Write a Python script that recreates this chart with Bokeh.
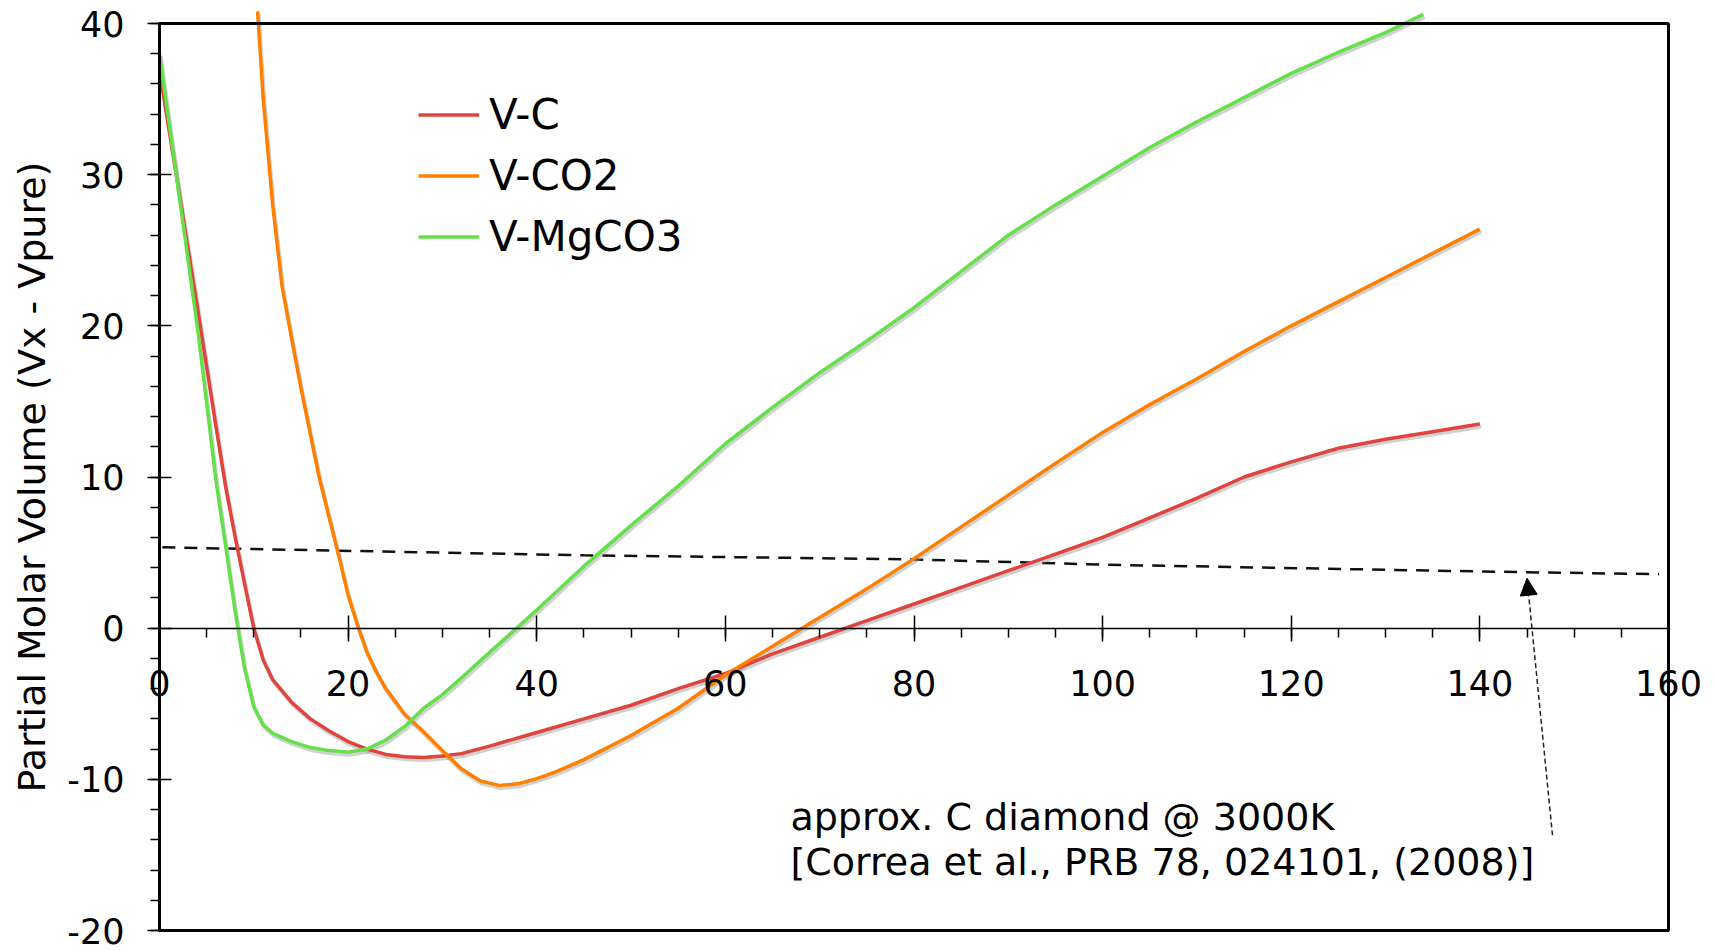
import numpy as np
from bokeh.plotting import figure
from bokeh.models import (Range1d, LinearAxis, FixedTicker, Legend, LegendItem,
                          Label, Arrow, NormalHead, BoxAnnotation)
from bokeh.embed import file_html
from bokeh.resources import INLINE

# ---------------- data ----------------
vc_x = [0, 1, 2, 3, 4, 5, 6, 7, 8, 9, 10, 11, 12, 14, 16, 18, 20, 22, 24, 26, 28,
        30, 32, 35, 40, 45, 50, 55, 60, 65, 70, 75, 80, 85, 90, 95, 100, 105, 110,
        115, 120, 125, 130, 135, 140]
vc_y = [36.9, 33.0, 29.1, 25.2, 21.3, 17.3, 13.3, 9.4, 6.1, 3.0, 0.0, -2.1, -3.4,
        -4.9, -6.0, -6.8, -7.5, -8.0, -8.35, -8.5, -8.55, -8.45, -8.3, -7.8, -6.9,
        -6.0, -5.1, -4.0, -3.0, -1.7, -0.6, 0.5, 1.6, 2.7, 3.8, 4.9, 6.0, 7.3, 8.6,
        10.0, 11.0, 11.9, 12.5, 13.0, 13.5]

vco2_x = [10.4, 11, 12, 13, 14, 15, 16, 17, 18, 19, 20, 21, 22, 23, 24, 26, 28, 30,
          32, 34, 36, 38, 40, 42, 45, 50, 55, 60, 65, 70, 75, 80, 85, 90, 95, 100,
          105, 110, 115, 120, 125, 130, 135, 140]
vco2_y = [40.8, 35.0, 28.0, 22.6, 19.2, 15.9, 12.8, 9.8, 7.3, 4.8, 2.2, 0.2, -1.6,
          -2.9, -4.0, -5.7, -6.85, -8.1, -9.3, -10.1, -10.4, -10.3, -9.95, -9.5,
          -8.7, -7.1, -5.3, -3.1, -1.2, 0.7, 2.6, 4.6, 6.7, 8.8, 10.9, 12.95, 14.8,
          16.5, 18.3, 20.0, 21.6, 23.2, 24.8, 26.4]

vmg_x = [0, 1, 2, 3, 4, 5, 6, 7, 8, 9, 10, 11, 12, 14, 16, 18, 20, 22, 24, 26, 28,
         30, 32, 35, 40, 45, 50, 55, 60, 65, 70, 75, 80, 85, 90, 95, 100, 105, 110,
         115, 120, 125, 130, 134]
vmg_y = [38.0, 33.5, 29.0, 24.5, 20.0, 14.9, 9.7, 5.5, 1.2, -2.6, -5.2, -6.4, -6.95,
         -7.5, -7.9, -8.1, -8.2, -8.0, -7.4, -6.5, -5.3, -4.4, -3.3, -1.6, 1.2, 4.1,
         6.8, 9.4, 12.2, 14.6, 16.9, 19.0, 21.2, 23.6, 26.0, 28.0, 29.9, 31.8, 33.5,
         35.1, 36.7, 38.1, 39.4, 40.6]

diamond_x = [0.3, 45, 80, 100, 140, 159]
diamond_y = [5.35, 4.82, 4.55, 4.2, 3.75, 3.57]

series_names = ["V-C", "V-CO2", "V-MgCO3"]
series_colors = ["#E0443F", "#FF8000", "#66E04A"]

x_ticks = [0, 20, 40, 60, 80, 100, 120, 140, 160]
y_ticks = [-20, -10, 0, 10, 20, 30, 40]
y_tick_text = {-20: "-20", -10: "-10"}

y_label = "Partial Molar Volume (Vx - Vpure)"
note_line1 = "approx. C diamond @ 3000K"
note_line2 = "[Correa et al., PRB 78, 024101, (2008)]"
note_x, note_y1, note_y2 = 66.9, -12.5, -15.45
arrow_start = (147.7, -13.7)
arrow_end = (145.0, 3.3)

FONT = "DejaVu Sans"

# ---------------- layout (pixels) ----------------
W, H = 1715, 951
L, R, T, B = 159, 1668, 23, 930          # where the data box sits on the page
x0, x1 = x_ticks[0], x_ticks[-1]
y0, y1 = y_ticks[0], y_ticks[-1]
sx = (R - L) / (x1 - x0)
sy = (B - T) / (y1 - y0)

p = figure(width=W, height=H, output_backend="svg", toolbar_location=None,
           x_range=Range1d(x0 - L / sx, x1 + (W - R) / sx),
           y_range=Range1d(y0 - (H - B) / sy, y1 + T / sy),
           x_axis_location=None, y_axis_location=None, min_border=0)
p.background_fill_color = "white"
p.border_fill_color = "white"
p.outline_line_color = None
p.grid.visible = False

# frame of the data box
p.add_layout(BoxAnnotation(left=x0, right=x1, bottom=y0, top=y1,
                           fill_alpha=0, fill_color=None,
                           line_color="black", line_alpha=1.0, line_width=3,
                           level="overlay"))

# y axis (at x = 0)
ya = LinearAxis(fixed_location=x0, bounds=(y0, y1),
                ticker=FixedTicker(ticks=y_ticks,
                                   minor_ticks=np.arange(y0, y1 + 0.01, 2).tolist()))
ya.major_label_overrides = y_tick_text
ya.axis_line_width = 3
ya.axis_line_color = "black"
ya.major_tick_in = 12
ya.major_tick_out = 12
ya.minor_tick_in = 0
ya.minor_tick_out = 9
ya.major_tick_line_width = 1.5
ya.minor_tick_line_width = 1.5
ya.major_label_text_font = FONT
ya.major_label_text_font_size = "35px"
ya.major_label_text_color = "black"
ya.major_label_standoff = 23
ya.axis_label = y_label
ya.axis_label_text_font = FONT
ya.axis_label_text_font_size = "38px"
ya.axis_label_text_font_style = "normal"
ya.axis_label_text_color = "black"
ya.axis_label_standoff = 10
p.add_layout(ya, "left")

# x axis crossing at y = 0
xa = LinearAxis(fixed_location=0, bounds=(x0, x1),
                ticker=FixedTicker(ticks=x_ticks,
                                   minor_ticks=np.arange(x0, x1 + 0.01, 5).tolist()))
xa.axis_line_width = 1.5
xa.axis_line_color = "black"
xa.major_tick_in = 13
xa.major_tick_out = 13
xa.minor_tick_in = 0
xa.minor_tick_out = 9
xa.major_tick_line_width = 1.5
xa.minor_tick_line_width = 1.5
xa.major_label_text_font = FONT
xa.major_label_text_font_size = "35px"
xa.major_label_text_color = "black"
xa.major_label_standoff = 29
p.add_layout(xa, "below")

# reference (diamond) dashed line
p.line(diamond_x, diamond_y, line_color="#111111", line_width=2.5, line_dash="13 9")

# curves with soft drop shadow
curves = [(vc_x, vc_y, series_colors[0]),
          (vco2_x, vco2_y, series_colors[1]),
          (vmg_x, vmg_y, series_colors[2])]
for xs, ys, color in curves:
    shx = (np.array(xs) + 0.12).tolist()
    shy = (np.array(ys) - 0.17).tolist()
    p.line(shx, shy, line_color="#9a9a9a", line_alpha=0.45, line_width=4,
           line_join="round")
renderers = []
for xs, ys, color in curves:
    r = p.line(xs, ys, line_color=color, line_width=3.5, line_join="round")
    renderers.append(r)

# legend
legend = Legend(items=[LegendItem(label=n, renderers=[r])
                       for n, r in zip(series_names, renderers)],
                location=(418, 689), orientation="vertical",
                label_text_font=FONT, label_text_font_size="42px",
                label_text_color="black",
                glyph_width=61, glyph_height=51, label_height=51,
                label_standoff=10, spacing=10, padding=0, margin=0,
                border_line_color=None, background_fill_alpha=0)
p.add_layout(legend)

# annotation text
for t, yy in [(note_line1, note_y1), (note_line2, note_y2)]:
    p.add_layout(Label(x=note_x, y=yy, text=t, text_font=FONT,
                       text_font_size="38px", text_color="black",
                       text_align="left", text_baseline="alphabetic"))

# arrow
p.add_layout(Arrow(end=NormalHead(size=17, fill_color="black", line_color="black",
                                  line_width=1),
                   x_start=arrow_start[0], y_start=arrow_start[1],
                   x_end=arrow_end[0], y_end=arrow_end[1],
                   line_color="#222222", line_width=1.5, line_dash="5 3"))

open("out.html", "w").write(file_html(p, INLINE))
